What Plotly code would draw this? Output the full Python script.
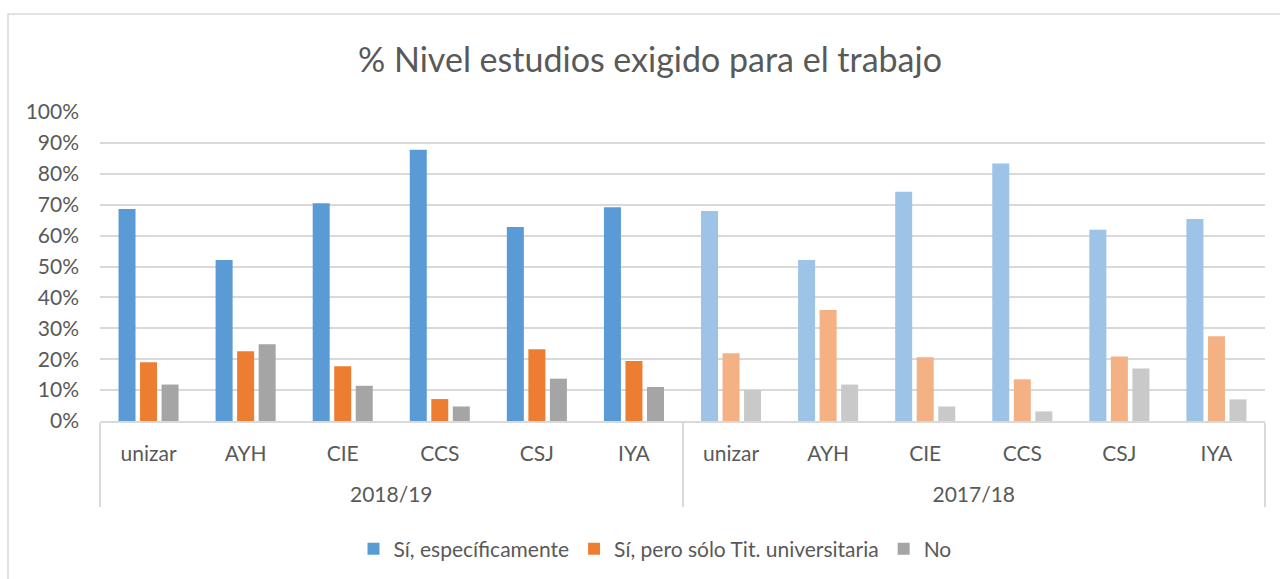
import plotly.graph_objects as go

# Categories
periods = ["2018/19"] * 6 + ["2017/18"] * 6
centres = ["unizar", "AYH", "CIE", "CCS", "CSJ", "IYA"] * 2

# Series values (%)
si_especificamente = [68.6, 52.1, 70.5, 87.8, 62.8, 69.2,
                      68.0, 52.1, 74.2, 83.3, 61.9, 65.4]
si_solo_titulacion = [19.0, 22.6, 17.7, 7.1, 23.2, 19.4,
                      21.9, 35.9, 20.6, 13.5, 20.9, 27.4]
no_exigido = [11.8, 24.8, 11.4, 4.7, 13.7, 11.0,
              10.0, 11.8, 4.7, 3.1, 17.0, 7.0]

series_names = ["Sí, específicamente", "Sí, pero sólo Tit. universitaria", "No"]
dark_colors = ["#5B9BD5", "#ED7D31", "#A5A5A5"]
light_colors = ["#9DC3E6", "#F4B183", "#C9C9C9"]

FONT = "Lato"
TEXT = "#595959"

# group labels sit one line lower than the centre labels
group_labels = ["<br>" + p for p in periods]

fig = go.Figure()
for name, vals, dark, light in zip(series_names,
                                   [si_especificamente, si_solo_titulacion, no_exigido],
                                   dark_colors, light_colors):
    colors = [dark if p == "2018/19" else light for p in periods]
    fig.add_trace(go.Bar(
        name=name,
        x=[group_labels, centres],
        y=vals,
        marker=dict(color=colors, line=dict(width=0)),
        hovertemplate="%{y:.1f}%<extra></extra>",
    ))

# outer chart border
L, R, T, B = 100, 15, 112, 158
W, H = 1280, 579
pw, ph = W - L - R, H - T - B
def px_x(x):
    return (x - L) / pw
def px_y(y):
    return (H - B - y) / ph

fig.add_shape(type="rect", xref="paper", yref="paper",
              x0=px_x(8), x1=px_x(1300), y0=px_y(600), y1=px_y(14),
              line=dict(color="#D9D9D9", width=1.5), fillcolor="rgba(0,0,0,0)",
              layer="below")

fig.update_layout(
    width=W, height=H,
    margin=dict(l=L, r=R, t=T, b=B, autoexpand=False),
    paper_bgcolor="white", plot_bgcolor="white",
    barmode="group", bargap=0.335, bargroupgap=0.21,
    font=dict(family=FONT, color=TEXT, size=21),
    title=dict(text="% Nivel estudios exigido para el trabajo",
               x=650 / W, xref="container", xanchor="center",
               y=1 - 60 / H, yanchor="middle",
               font=dict(family=FONT, size=34, color=TEXT)),
    legend=dict(orientation="h", x=655 / W, xref="container", xanchor="center",
                y=1 - 549 / H, yref="container", yanchor="middle",
                font=dict(size=21, color=TEXT), itemwidth=30, tracegroupgap=0),
    showlegend=True,
)

fig.update_yaxes(range=[0, 100], dtick=10, ticksuffix="%",
                 showgrid=True, gridcolor="#D9D9D9", gridwidth=1.5,
                 zeroline=False, showline=False, ticks="",
                 tickfont=dict(size=21, color=TEXT), ticklabelstandoff=20)
fig.update_xaxes(type="multicategory", showline=True, linecolor="#D9D9D9",
                 linewidth=1.5, showdividers=True, dividercolor="#D9D9D9",
                 dividerwidth=1.5, ticks="", ticklabelstandoff=13,
                 automargin=False, tickfont=dict(size=21, color=TEXT))

fig.write_html("out.html")
